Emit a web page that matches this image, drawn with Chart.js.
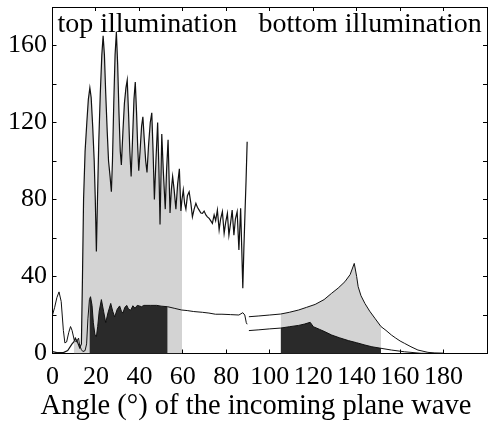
<!DOCTYPE html>
<html><head><meta charset="utf-8">
<script src="https://cdn.jsdelivr.net/npm/chart.js@4.4.1/dist/chart.umd.min.js"></script>
<style>html,body{margin:0;padding:0;background:#fff}canvas{display:block}</style>
</head><body>
<canvas id="c" width="488" height="422"></canvas>
<script>
// ---- data ----
const xTickMax = 180;
const panelLabels = ['top illumination', 'bottom illumination'];
const xTitle = 'Angle (°) of the incoming plane wave';

// top illumination, upper curve
const topAngle = [0,2,5,7,9,9.8,10.5,11.5,12.5,13.3,13.8,14.3,15,15.8,16.5,17.2,17.8,18.5,19.2,19.7,20.2,20.7,21.3,22,22.7,23.3,23.9,24.5,25.2,25.8,26.5,27.1,27.6,28.2,28.8,29.4,30,30.6,31.2,31.7,32.4,33.1,33.8,34.4,35,35.6,36.2,36.8,37.5,38.1,38.7,39.2,39.7,40.3,41,41.6,42.2,42.9,43.5,44.2,45,45.7,46.3,46.9,47.6,48.4,49,49.5,50.3,51,51.9,52.5,53.2,53.7,54.1,54.7,55.3,56,56.8,57.6,58.4,59.1,59.6,60.2,60.8,61.4,62.1,62.9,63.7,64.4,65.2,66,66.7,67.5,68.3,69,69.8,70.6,71.3,72.1,72.8,73.6,74.4,75.1,75.9,76.7,77.4,78.2,79,79.7,80.5,81.2,82,82.7,83.5,84.2,85,85.8,86.6,87.1,87.6,88.1,88.6,89.1,89.6];
const topValue = [1,0.5,0.5,1.5,5,6,8,6,3,5,40,80,105,120,132,138,133,118,100,80,53,80,110,135,155,165,155,135,115,100,92,84,100,130,155,167,150,125,105,98,115,130,138,142,125,105,92,110,132,141,125,108,95,105,118,123,112,100,94,108,120,125,105,80,100,120,95,67,114,95,75,95,111,90,73,85,92,85,75,88,96,74,80,85,78,75,82,84,78,71,75,78,76,74.5,73,72.8,74,72,71,70.2,69,67.6,72,69,74.5,64.2,70,73.7,62.4,68,72.8,61.5,68,74.5,61.5,70,73.7,53.8,75.4,55,33.9,55,72.8,90,110];

// top illumination, lower curve
const lowAngle = [0,1,2,3,4,5,5.7,6.5,7.5,8.3,9,10,11,12,12.5,13.3,14,15,15.7,16.3,17,17.5,18.2,18.8,19.5,20.2,20.8,21.5,22.5,23.5,24.5,25.5,26.8,27.7,28.6,29.8,30.9,31.7,32.4,33.3,34.2,35,36,37,38,39,40,41,42,45,48,50,53,56,59.4,62,65,69,72,75,78,82,85.8,87.6,88.5,89.2,89.6];
const lowValue = [20,24,29,32,27,12,5.5,6,11,14,12,7,6,8,4,2,1,1.5,5,18,28,29.5,25,16,10,8.7,14,22,28,22,16,21,26,22,19,23,24.7,22,21,24,25,23,22.5,24.8,23.5,25,24.7,24.3,25,25,25,24.6,24.3,23.5,22.6,22.3,21.8,21.4,21,20.4,20.4,20.2,20,21.2,20,16,15.2];

// bottom illumination, upper curve
const buAngle = [90.4,95,100,105,109,113.3,117,120.9,125,128.5,131.5,134.6,137,138.9,140,140.7,142,143.8,146,148.4,151.2,153.5,156,158,160,162,165,168.2,172.8,176,180];
const buValue = [19.1,19.5,20,20.5,21.4,22.6,24,25.5,28,31.3,34,37.3,41,46.8,40,34.7,30,26,22,18.3,14,12,9.6,8,6.5,5.3,3.5,1.8,0.6,0.3,0.2];

// bottom illumination, lower curve
const blAngle = [90.4,95,100,105,109,113.3,116,118.6,120.1,123,125,128.5,132,136.2,140,143.8,147,151.2,156,162,169.7,180];
const blValue = [11.9,12.3,12.8,13.2,13.9,14.6,15.3,16.2,13.9,12.5,11.5,9.6,8.2,6.7,5.6,4.4,3.5,2.7,1.8,0.9,0.1,0];

// shaded angle ranges
const topFillRange = [9.8, 59.6];
const lowFillRange = [17, 53];
const bottomFillRange = [105, 151.2];

// ---- helpers ----
const pts = (xs, ys) => xs.map((x, i) => ({x: x, y: ys[i]}));
const within = (xs, ys, r) => pts(xs, ys).filter(p => p.x >= r[0] && p.x <= r[1]);

const LIGHT = '#d3d3d3', DARK = '#2a2a2a', INK = '#111';
const SERIF = "'Liberation Serif', 'Times New Roman', serif";

function fillSet(data, color, order) {
  return {data, fill: 'origin', backgroundColor: color, borderColor: 'rgba(0,0,0,0)', borderWidth: 0, pointRadius: 0, tension: 0, order};
}
function lineSet(data, width) {
  return {data, fill: false, borderColor: INK, borderWidth: width, pointRadius: 0, tension: 0, order: 0};
}

const labelPlugin = {
  id: 'panelLabels',
  afterDatasetsDraw(chart) {
    const ctx = chart.ctx, a = chart.chartArea;
    ctx.save();
    ctx.fillStyle = '#000';
    ctx.textBaseline = 'alphabetic';
    ctx.font = '28px ' + SERIF;
    ctx.textAlign = 'left';
    ctx.fillText(panelLabels[0], a.left + 5, a.top + 25);
    ctx.fillText(panelLabels[1], a.left + 206, a.top + 25);
    // x-axis title
    ctx.font = '28.5px ' + SERIF;
    ctx.textAlign = 'center';
    ctx.fillText(xTitle, 256, chart.height - 8);
    ctx.restore();
  }
};

const tickGrid = {drawOnChartArea: false, drawTicks: true, tickLength: -4, color: '#000', lineWidth: 1};
const frame = {display: true, color: '#000', width: 1};
const noPad = s => { s.paddingLeft = 0; s.paddingRight = 0; s.paddingTop = 0; s.paddingBottom = 0; };

new Chart(document.getElementById('c'), {
  type: 'line',
  data: {
    datasets: [
      fillSet(within(topAngle, topValue, topFillRange), LIGHT, 3),
      fillSet(within(buAngle, buValue, bottomFillRange), LIGHT, 3),
      fillSet(within(lowAngle, lowValue, lowFillRange), DARK, 2),
      fillSet(within(blAngle, blValue, bottomFillRange), DARK, 2),
      lineSet(pts(topAngle, topValue), 1.2),
      lineSet(pts(lowAngle, lowValue), 1),
      lineSet(pts(buAngle, buValue), 1),
      lineSet(pts(blAngle, blValue), 1)
    ]
  },
  options: {
    responsive: false,
    animation: false,
    events: [],
    layout: {padding: {top: 7, right: 1, left: 0, bottom: 0}},
    plugins: {legend: {display: false}, tooltip: {enabled: false}},
    scales: {
      x: {
        type: 'linear', position: 'bottom', min: 0, max: 200,
        ticks: {stepSize: 20, padding: 11.6, color: '#000', font: {family: SERIF, size: 26},
                maxRotation: 0, autoSkip: false,
                callback: v => (v <= xTickMax ? String(v) : '')},
        grid: tickGrid, border: frame,
        afterFit: s => { s.height = 68.5; noPad(s); }
      },
      x2: {
        type: 'linear', position: 'top', min: 0, max: 200,
        ticks: {stepSize: 20, display: false},
        grid: tickGrid, border: frame,
        afterFit: s => { s.height = 0; noPad(s); }
      },
      y: {
        type: 'linear', position: 'left', min: 0, max: 180,
        ticks: {stepSize: 20, padding: 9.5, color: '#000', font: {family: SERIF, size: 26},
                autoSkip: false, callback: v => (v % 40 === 0 ? String(v) : '')},
        grid: tickGrid, border: frame,
        afterFit: s => { s.width = 52.5; noPad(s); }
      },
      y2: {
        type: 'linear', position: 'right', min: 0, max: 180,
        ticks: {stepSize: 20, display: false},
        grid: tickGrid, border: frame,
        afterFit: s => { s.width = 0; noPad(s); }
      }
    }
  },
  plugins: [labelPlugin]
});
</script>
</body></html>
